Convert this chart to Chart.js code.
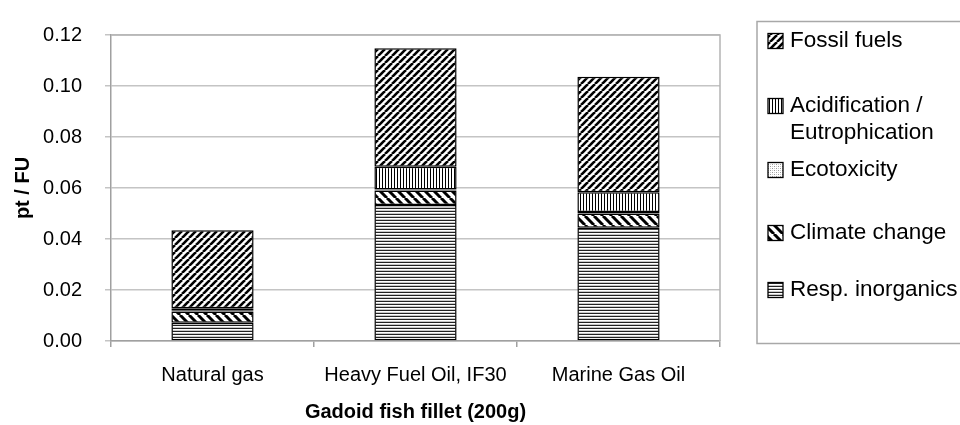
<!DOCTYPE html>
<html>
<head>
<meta charset="utf-8">
<script src="https://cdn.jsdelivr.net/npm/chart.js@4/dist/chart.umd.min.js"></script>
<style>
  html, body { margin: 0; padding: 0; background: #fff; }
  #wrap { width: 960px; height: 425px; position: relative; }
</style>
</head>
<body>
<div id="wrap"><canvas id="c" width="960" height="425"></canvas></div>
<script>
// ---- data ----
const categories = ["Natural gas", "Heavy Fuel Oil, IF30", "Marine Gas Oil"];
const respInorganics = [0.0072, 0.0533, 0.0444];
const climateChange  = [0.0044, 0.0057, 0.0056];
const ecotoxicity    = [0.0003, 0.0004, 0.0006];
const acidEutro      = [0.0009, 0.0089, 0.0077];
const fossilFuels    = [0.0306, 0.0465, 0.0453];
const yTicks = [0.00, 0.02, 0.04, 0.06, 0.08, 0.10, 0.12];
const seriesNames = ["Resp. inorganics", "Climate change", "Ecotoxicity", ["Acidification /", "Eutrophication"], "Fossil fuels"];
const xTitle = "Gadoid fish fillet (200g)";
const yTitle = "pt / FU";

// ---- patterns ----
function makePattern(w, h, draw) {
  const c = document.createElement('canvas');
  c.width = w; c.height = h;
  const x = c.getContext('2d');
  x.fillStyle = '#fff';
  x.fillRect(0, 0, w, h);
  draw(x, w, h);
  return x.createPattern(c, 'repeat');
}
const patFossil = makePattern(7, 7, (x, s) => {
  x.strokeStyle = '#000'; x.lineWidth = 2.6;
  for (const o of [-s, 0, s]) { x.beginPath(); x.moveTo(o, s); x.lineTo(o + s, 0); x.stroke(); }
});
const patClimate = makePattern(9, 9, (x, s) => {
  x.strokeStyle = '#000'; x.lineWidth = 3;
  for (const o of [-s, 0, s]) { x.beginPath(); x.moveTo(o, 0); x.lineTo(o + s, s); x.stroke(); }
});
const patAcid = makePattern(3, 3, (x, w, h) => { x.fillStyle = '#000'; x.fillRect(1, 0, 1, h); });
const patResp = makePattern(3, 3, (x, w, h) => {
  x.fillStyle = '#222'; x.fillRect(0, 1, w, 1);
  x.fillStyle = '#c8c8c8'; x.fillRect(0, 0, w, 1);
});
const patEco = makePattern(4, 4, (x) => {
  x.fillStyle = '#999'; x.fillRect(0, 0, 1, 1); x.fillRect(2, 2, 1, 1);
  x.fillStyle = '#ccc'; x.fillRect(2, 0, 1, 1); x.fillRect(0, 2, 1, 1);
});

const FONT = "'Liberation Sans', Arial, sans-serif";
Chart.defaults.font.family = FONT;
Chart.defaults.color = '#000';

function ds(label, data, bg) {
  return {
    label: Array.isArray(label) ? label.join(' ') : label,
    legendLines: Array.isArray(label) ? label : [label],
    data, backgroundColor: bg, borderColor: '#000', borderWidth: 1.5,
    borderSkipped: false, barPercentage: 0.405, categoryPercentage: 1.0
  };
}

const frame = {
  id: 'frame',
  beforeDatasetsDraw(chart) {
    const { ctx, chartArea: a } = chart;
    ctx.save();
    ctx.strokeStyle = '#b4b4b4'; ctx.lineWidth = 1.5;
    ctx.beginPath();
    ctx.moveTo(a.left, a.top); ctx.lineTo(a.right, a.top); ctx.lineTo(a.right, a.bottom);
    ctx.stroke();
    ctx.restore();
  }
};

const legendBox = {
  id: 'legendBox',
  afterDraw(chart) {
    const { ctx } = chart;
    ctx.save();
    ctx.strokeStyle = '#a8a8a8'; ctx.lineWidth = 1.5;
    ctx.strokeRect(757, 21.5, 260, 322);
    const centers = [290, 233, 170, 106, 41]; // per dataset index
    ctx.font = "22.5px " + FONT;
    ctx.textBaseline = 'middle';
    ctx.fillStyle = '#000';
    chart.data.datasets.forEach((d, i) => {
      const cy = centers[i];
      ctx.fillStyle = d.backgroundColor;
      ctx.fillRect(768, cy - 7.5, 15, 15);
      ctx.strokeStyle = '#000'; ctx.lineWidth = 1.3;
      ctx.strokeRect(768, cy - 7.5, 15, 15);
      ctx.fillStyle = '#000';
      d.legendLines.forEach((t, j) => ctx.fillText(t, 790, cy + j * 27));
    });
    ctx.restore();
  }
};

new Chart(document.getElementById('c'), {
  type: 'bar',
  data: {
    labels: categories,
    datasets: [
      ds(seriesNames[0], respInorganics, patResp),
      ds(seriesNames[1], climateChange, patClimate),
      ds(seriesNames[2], ecotoxicity, patEco),
      ds(seriesNames[3], acidEutro, patAcid),
      ds(seriesNames[4], fossilFuels, patFossil)
    ]
  },
  options: {
    responsive: false,
    devicePixelRatio: 1,
    animation: false,
    layout: { padding: { top: 20, right: 240, left: 0, bottom: 0 } },
    plugins: { legend: { display: false }, tooltip: { enabled: false } },
    scales: {
      x: {
        stacked: true,
        afterFit(s) { s.height = 84; },
        grid: { drawOnChartArea: false, drawTicks: true, tickLength: 6, color: '#a0a0a0', lineWidth: 1.5 },
        border: { color: '#a0a0a0', width: 1.5 },
        ticks: { font: { size: 20 }, padding: 16, maxRotation: 0, autoSkip: false },
        title: { display: true, text: xTitle, font: { size: 20, weight: 'bold' }, padding: { top: 0, bottom: 1 } }
      },
      y: {
        stacked: true,
        min: 0, max: 0.12,
        afterFit(s) { s.width = 111; },
        afterBuildTicks(s) { s.ticks = yTicks.map(v => ({ value: v })); },
        grid: { color: '#c4c4c4', lineWidth: 1.5, tickLength: 6 },
        border: { color: '#a0a0a0', width: 1.5 },
        ticks: { font: { size: 20 }, padding: 23, callback: v => Number(v).toFixed(2) },
        title: { display: true, text: yTitle, font: { size: 20, weight: 'bold' }, padding: { top: 11, bottom: 0 } }
      }
    }
  },
  plugins: [frame, legendBox]
});
</script>
</body>
</html>
